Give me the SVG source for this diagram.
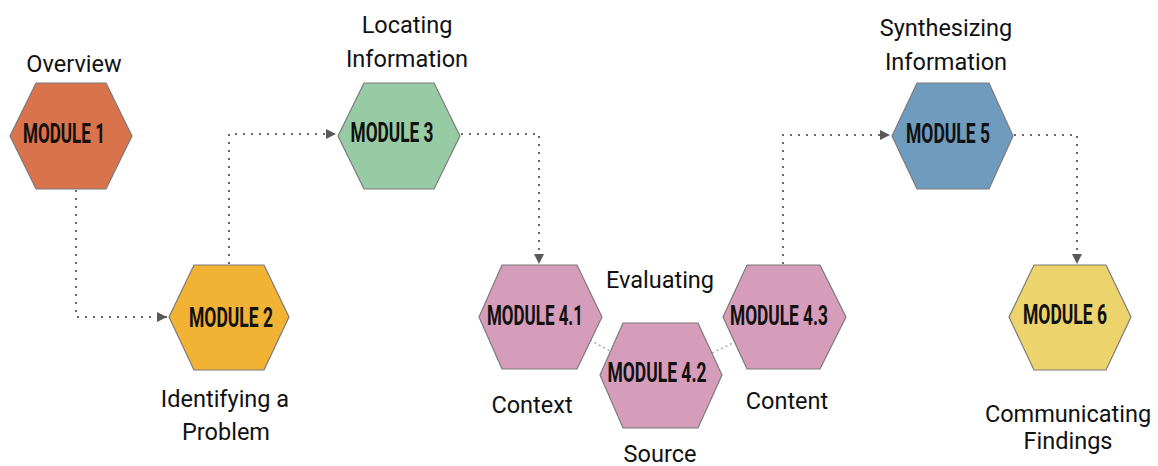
<svg xmlns="http://www.w3.org/2000/svg" width="1158" height="466" viewBox="0 0 1158 466">
<defs>
<marker id="arr" viewBox="0 0 10 10" refX="10" refY="5" markerWidth="10" markerHeight="10" markerUnits="userSpaceOnUse" orient="auto">
<path d="M0,0 L10,5 L0,10 z" fill="#595959"/>
</marker>
<style>
.hex{stroke:#7a7a7a;stroke-width:1.2}
.lbl{font-family:Roboto,"Liberation Sans",sans-serif;font-size:28px;font-weight:700;fill:#111;text-anchor:middle}
.cap{font-family:Roboto,"Liberation Sans",sans-serif;font-size:23.5px;fill:#111;text-anchor:middle}
.con{fill:none;stroke:#6a6a6a;stroke-width:2;stroke-dasharray:2 6}
.lnk{fill:none;stroke:#aaaaaa;stroke-width:1.5;stroke-dasharray:2 3}
</style>
</defs>
<rect width="1158" height="466" fill="#ffffff"/>
<g id="connectors">
<path class="con" d="M76,190 V317 H167" marker-end="url(#arr)"/>
<path class="con" d="M229,264 V134 H336" marker-end="url(#arr)"/>
<path class="con" d="M461,134 H539 V264" marker-end="url(#arr)"/>
<path class="con" d="M783,264 V135 H890" marker-end="url(#arr)"/>
<path class="con" d="M1014,135 H1077 V264" marker-end="url(#arr)"/>
<path class="lnk" d="M590,340 L612,352"/>
<path class="lnk" d="M712,353 L735,342"/>
</g>
<g id="module1">
<polygon class="hex" fill="#D9734B" points="10,136 36,83 106,83 132,136 106,189 36,189"/>
<text class="lbl" x="64" y="143" textLength="82" lengthAdjust="spacingAndGlyphs">MODULE 1</text>
<text class="cap" x="74" y="72">Overview</text>
</g>
<g id="module2">
<polygon class="hex" fill="#F2B234" points="169,317 194,265 264,265 289,317 264,370 194,370"/>
<text class="lbl" x="231" y="327" textLength="84" lengthAdjust="spacingAndGlyphs">MODULE 2</text>
<text class="cap" x="225" y="407">Identifying a</text>
<text class="cap" x="226" y="440">Problem</text>
</g>
<g id="module3">
<polygon class="hex" fill="#97CBA4" points="338,136 364,83 434,83 460,136 434,189 364,189"/>
<text class="lbl" x="392" y="142" textLength="83" lengthAdjust="spacingAndGlyphs">MODULE 3</text>
<text class="cap" x="407" y="33">Locating</text>
<text class="cap" x="407" y="67">Information</text>
</g>
<g id="module4-1">
<polygon class="hex" fill="#D59DBA" points="479,317 502,265 577,265 602,317 577,369 502,369"/>
<text class="lbl" x="535" y="325" textLength="96" lengthAdjust="spacingAndGlyphs">MODULE 4.1</text>
<text class="cap" x="532" y="413">Context</text>
</g>
<g id="module4-2">
<polygon class="hex" fill="#D59DBA" points="600,375 623,323 698,323 722,375 698,428 623,428"/>
<text class="lbl" x="657" y="382" textLength="99" lengthAdjust="spacingAndGlyphs">MODULE 4.2</text>
<text class="cap" x="660" y="462">Source</text>
</g>
<g id="module4-3">
<polygon class="hex" fill="#D59DBA" points="723,317 747,265 820,265 846,317 820,369 747,369"/>
<text class="lbl" x="779" y="325" textLength="98" lengthAdjust="spacingAndGlyphs">MODULE 4.3</text>
<text class="cap" x="787" y="409">Content</text>
</g>
<g id="evaluating">
<text class="cap" x="660" y="288">Evaluating</text>
</g>
<g id="module5">
<polygon class="hex" fill="#6F9CBE" points="892,136 917,83 989,83 1013,136 989,189 917,189"/>
<text class="lbl" x="948" y="143" textLength="84" lengthAdjust="spacingAndGlyphs">MODULE 5</text>
<text class="cap" x="946" y="36">Synthesizing</text>
<text class="cap" x="946" y="70">Information</text>
</g>
<g id="module6">
<polygon class="hex" fill="#EDD36B" points="1009,317 1034,265 1106,265 1131,317 1106,370 1034,370"/>
<text class="lbl" x="1065" y="324" textLength="84" lengthAdjust="spacingAndGlyphs">MODULE 6</text>
<text class="cap" x="1068" y="422">Communicating</text>
<text class="cap" x="1068" y="449">Findings</text>
</g>
</svg>
